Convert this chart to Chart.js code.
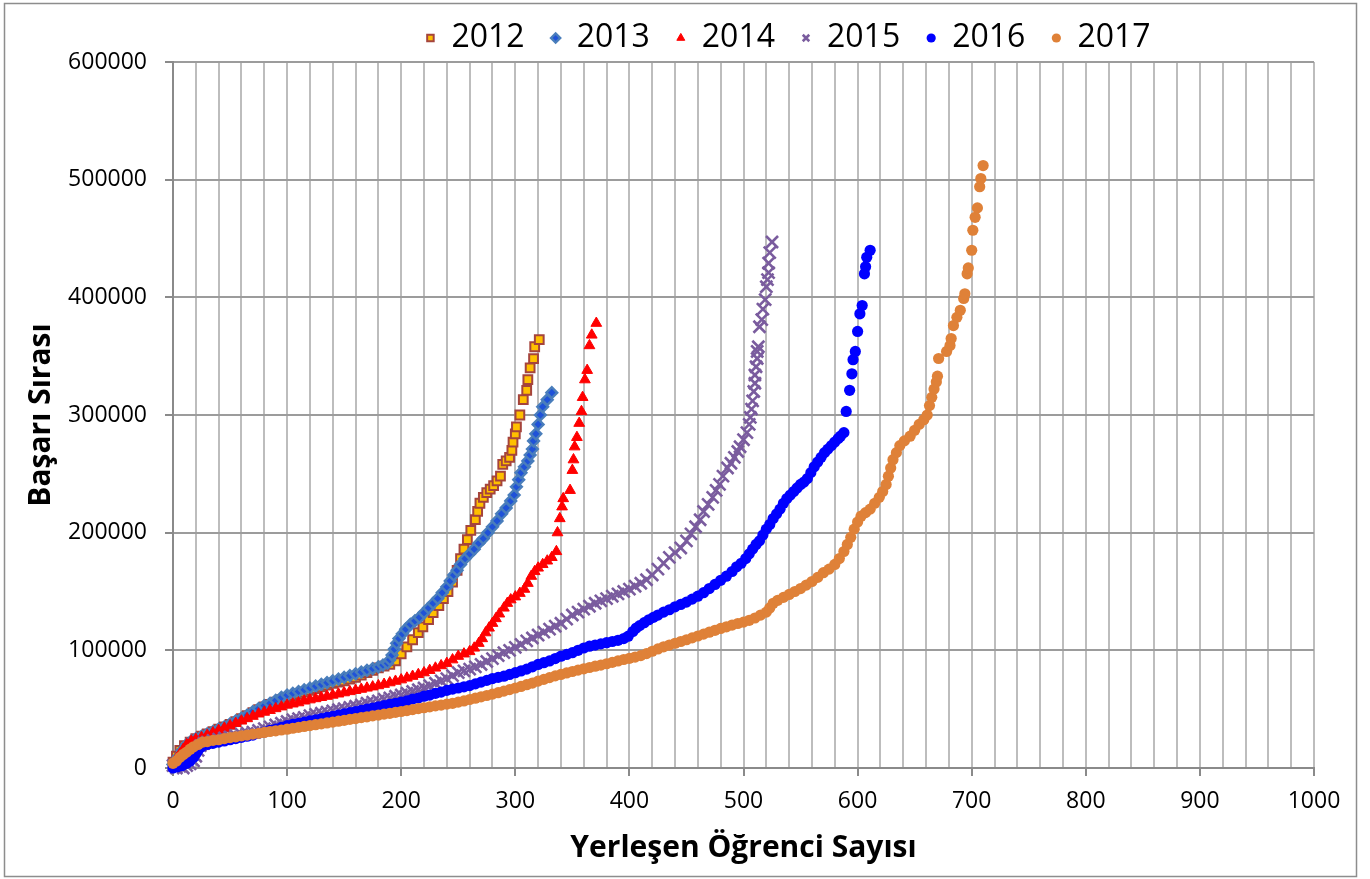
<!DOCTYPE html>
<html><head><meta charset="utf-8">
<script src="https://cdn.jsdelivr.net/npm/chart.js@4.4.0/dist/chart.umd.min.js"></script>
<style>html,body{margin:0;padding:0;background:#fff;}#wrap{width:1370px;height:879px;}</style>
</head><body><div id="wrap"><canvas id="c" width="1370" height="879"></canvas></div>
<script>
const seriesNames = ['2012','2013','2014','2015','2016','2017'];
const xTitle = 'Yerleşen Öğrenci Sayısı';
const yTitle = 'Başarı Sırası';
const xAxisMax = 1000, xMinorStep = 20, xLabelStep = 100;
const yAxisMax = 600000, yStep = 100000;

const s2012 = [[0,5000],[3,10000],[6,15000],[10,19000],[15,22000],[20,25000],[25,27000],[30,29000],[35,31000],[40,33000],[45,35000],[50,37000],[55,39500],[60,42000],[65,44500],[70,47000],[75,49500],[80,52000],[85,54000],[90,56000],[95,58000],[100,60000],[105,61500],[110,63000],[115,64500],[120,66000],[125,67500],[130,69000],[135,70500],[140,72000],[145,73000],[150,74000],[155,75500],[160,77000],[165,79000],[170,81000],[175,83000],[180,85000],[185,86500],[190,88000],[195,91000],[200,97000],[205,103000],[210,109000],[215,115000],[219,120000],[224,126000],[228,132000],[233,138000],[237,144000],[241,150000],[245,158000],[249,168000],[252,178000],[255,186000],[258,194000],[261,202000],[265,211000],[267,218000],[269,225000],[272,230000],[275,234000],[278,237000],[281,240000],[284,244000],[287,248000],[289,258000],[292,261000],[295,264000],[297,270000],[298,277000],[300,284000],[301,290000],[304,300000],[307,313000],[310,321000],[311,330000],[313,340000],[316,348000],[317,358000],[321,364000]];

const s2013 = [[0,3000],[2,6000],[5,10000],[8,15000],[12,20000],[16,23000],[20,25000],[25,27000],[30,29000],[35,31000],[40,33000],[45,35000],[50,37500],[55,40000],[60,42500],[65,45000],[70,48000],[75,50500],[80,53000],[85,55000],[90,57500],[95,60000],[100,62000],[105,63500],[110,65000],[115,66500],[120,68000],[125,69500],[130,71000],[135,72500],[140,74000],[145,75500],[150,77000],[155,78500],[160,80000],[165,81500],[170,83000],[175,84500],[180,86000],[184,87500],[188,89000],[190,92000],[192,96000],[194,101000],[196,106000],[198,110000],[201,114000],[204,118000],[208,122000],[212,125000],[216,128000],[220,132000],[224,136000],[228,140000],[232,144000],[236,149000],[240,154000],[243,159000],[246,164000],[249,168000],[252,173000],[256,178000],[260,182000],[264,186000],[268,191000],[272,195000],[276,200000],[280,205000],[284,210000],[288,216000],[292,221000],[296,227000],[299,232000],[301,239000],[303,245000],[305,251000],[308,256000],[311,261000],[313,266000],[315,271000],[316,278000],[318,284000],[320,292000],[322,300000],[324,307000],[328,313000],[332,319000]];

const s2014 = [[3,8000],[6,12000],[9,16000],[12,20000],[16,23000],[20,24500],[25,26000],[30,28000],[35,30000],[40,32000],[45,34000],[50,36000],[55,38000],[60,40000],[65,42000],[70,44000],[75,46000],[80,47500],[85,49000],[90,50500],[95,52000],[100,53500],[105,54500],[110,55500],[115,57000],[120,58000],[125,59000],[130,60000],[135,61000],[140,62000],[145,63000],[150,64000],[155,65000],[160,66000],[165,67000],[170,68000],[175,69000],[180,70000],[185,71200],[190,72500],[195,73800],[200,75000],[205,76500],[210,78000],[215,79500],[220,81000],[225,83000],[230,85000],[235,87000],[240,89000],[245,92000],[250,95000],[255,97000],[260,99000],[264,102000],[268,106000],[271,110000],[274,115000],[277,119000],[280,123000],[283,127000],[286,131000],[290,136000],[293,140000],[296,143000],[300,145500],[304,148500],[308,152000],[311,157000],[314,163000],[317,167000],[320,170000],[324,173000],[328,176000],[332,179000],[336,184000],[337,200000],[339,212000],[341,222000],[342,229000],[348,236000],[350,253000],[351,262000],[352,273000],[354,281000],[356,293000],[358,303000],[359,315000],[361,330000],[363,338000],[365,359000],[367,368000],[371,378000]];

const s2015 = [[0,2000],[3,0],[6,1500],[9,0],[12,2000],[15,3500],[18,6000],[20,10000],[22,15000],[24,19000],[27,21000],[30,22000],[35,23500],[40,24500],[45,25500],[50,26500],[55,27500],[60,28500],[65,29500],[70,30500],[75,32000],[80,33500],[85,35000],[90,36500],[95,38000],[100,39500],[105,41000],[110,42000],[115,43000],[120,44500],[125,45500],[130,46500],[135,47500],[140,48500],[145,49500],[150,50500],[155,51500],[160,52500],[165,53500],[170,55000],[175,56000],[180,57000],[185,58500],[190,59500],[195,61000],[200,62000],[205,63500],[210,65000],[215,66500],[220,68000],[225,70000],[230,72000],[235,74000],[240,76000],[245,78500],[250,81000],[255,82500],[260,84000],[265,86000],[270,88000],[275,90500],[280,93000],[285,95500],[290,98000],[295,100000],[300,102500],[305,105000],[310,108000],[315,110500],[320,113000],[325,115500],[330,118000],[335,120500],[340,123000],[345,126500],[350,130000],[355,132500],[360,135000],[365,137500],[370,140000],[375,142000],[380,144000],[385,146000],[390,148000],[395,150000],[400,152000],[405,154500],[410,157000],[415,160000],[420,164000],[425,169000],[430,174000],[435,179000],[440,183000],[445,187000],[450,193000],[454,199000],[458,205000],[462,211000],[465,218000],[469,224000],[473,230000],[476,236000],[479,241000],[482,248000],[486,255000],[489,259000],[492,264000],[495,269000],[497,273000],[500,279000],[503,285000],[505,292000],[506,298000],[507,305000],[508,312000],[509,320000],[510,327000],[510,334000],[511,341000],[512,348000],[512,354000],[513,358000],[514,375000],[516,381000],[517,390000],[519,398000],[520,409000],[521,415000],[522,421000],[522,429000],[523,438000],[525,447000]];

const s2016 = [[0,0],[4,1000],[8,2000],[12,4000],[15,6000],[18,9000],[20,12000],[22,15000],[25,18000],[30,20000],[35,21000],[40,22000],[45,23000],[50,24000],[55,25000],[60,26000],[65,27000],[70,28000],[75,29500],[80,30500],[85,32000],[90,33000],[95,34500],[100,36000],[105,37000],[110,38000],[115,39000],[120,40000],[125,41000],[130,42000],[135,43000],[140,44000],[145,45000],[150,46000],[155,47000],[160,48000],[165,49000],[170,50000],[175,51000],[180,52000],[185,53000],[190,54000],[195,55000],[200,56000],[205,57000],[210,58500],[215,59500],[220,61000],[225,62000],[230,63500],[235,64500],[240,66000],[245,67000],[250,68000],[255,69000],[260,70000],[265,71500],[270,73000],[275,74500],[280,76000],[285,77000],[290,78000],[295,79500],[300,81000],[305,82500],[310,84000],[315,86000],[320,88000],[325,89500],[330,91000],[335,93000],[340,95000],[345,96500],[350,98000],[355,100000],[360,102000],[365,103500],[370,104500],[375,105500],[380,106500],[385,107500],[390,108500],[395,110000],[399,112000],[403,116000],[406,119000],[409,121000],[413,123500],[417,126000],[421,128000],[425,130000],[430,132500],[435,134500],[440,137000],[445,139000],[450,141000],[455,143500],[460,146000],[465,149000],[470,152500],[475,156000],[480,159500],[485,163000],[490,167000],[494,171000],[498,174000],[502,178000],[505,182000],[508,186000],[511,190000],[514,193000],[517,198000],[520,203000],[523,207000],[526,212000],[529,216000],[532,220000],[535,225000],[538,229000],[541,232000],[544,235000],[547,238000],[550,241000],[553,243000],[556,246000],[559,251000],[562,256000],[565,260000],[568,264000],[571,268000],[574,271000],[577,274000],[580,277000],[583,280000],[585,282000],[588,285000],[590,303000],[593,321000],[595,335000],[596,347000],[598,354000],[600,371000],[602,386000],[604,393000],[606,420000],[607,426000],[608,434000],[611,440000]];

const s2017 = [[0,4000],[3,6000],[6,9000],[9,11500],[12,13500],[15,16000],[18,18000],[22,20000],[26,22000],[30,22500],[35,23500],[40,24000],[45,25000],[50,25800],[55,26500],[60,27300],[65,28000],[70,28800],[75,29500],[80,30200],[85,31000],[90,31600],[95,32300],[100,33000],[105,33800],[110,34500],[115,35300],[120,36000],[125,36800],[130,37500],[135,38300],[140,39000],[145,39800],[150,40500],[155,41300],[160,42000],[165,42800],[170,43500],[175,44300],[180,45000],[185,45800],[190,46500],[195,47300],[200,48000],[205,48800],[210,49600],[215,50500],[220,51200],[225,52000],[230,52800],[235,53500],[240,54300],[245,55000],[250,56000],[255,57000],[260,58200],[265,59300],[270,60500],[275,61600],[280,62800],[285,64000],[290,65300],[295,66600],[300,68000],[305,69300],[310,70800],[315,72200],[320,73800],[325,75300],[330,76800],[335,78300],[340,79500],[345,80800],[350,82000],[355,83200],[360,84300],[365,85400],[370,86500],[375,87500],[380,88600],[385,89800],[390,91000],[395,92200],[400,93200],[405,94300],[410,95500],[415,97200],[420,99200],[425,101200],[430,103000],[435,104500],[440,106000],[445,107500],[450,109000],[455,110600],[460,112200],[465,113800],[470,115400],[475,117000],[480,118600],[485,120000],[490,121500],[495,122800],[500,124000],[505,125500],[510,127500],[515,130000],[520,132500],[523,136000],[526,140000],[530,142500],[535,145000],[540,147500],[545,150000],[550,152500],[555,155500],[560,158500],[565,162000],[570,166000],[575,169000],[580,173000],[584,178000],[588,184000],[591,190000],[594,196000],[597,203000],[600,209000],[603,214000],[607,217000],[611,220000],[615,225000],[619,230000],[622,235000],[625,241000],[627,248000],[629,255000],[631,262000],[634,268000],[637,274000],[641,278000],[646,282000],[650,287000],[654,292000],[658,296000],[661,300000],[663,308000],[665,315000],[667,322000],[669,328000],[670,333000],[671,348000],[678,354000],[681,359000],[682,365000],[684,376000],[687,383000],[690,389000],[693,399000],[694,403000],[696,420000],[697,425000],[700,440000],[701,457000],[703,468000],[705,476000],[707,494000],[708,501000],[710,512000]];

const seriesData = [s2012, s2013, s2014, s2015, s2016, s2017];

const styles = [
  {pointStyle:'rect', pointRadius:6.2, backgroundColor:'#FFC000', borderColor:'#A5443C', borderWidth:2},
  {pointStyle:'rectRot', pointRadius:5.4, backgroundColor:'#1f52d8', borderColor:'#4A7EBB', borderWidth:2.4},
  {pointStyle:'triangle', pointRadius:6.2, backgroundColor:'#FF0000', borderColor:'#FF0000', borderWidth:1},
  {pointStyle:'crossRot', pointRadius:8.5, backgroundColor:'#7A5C9E', borderColor:'#7A5C9E', borderWidth:2.6},
  {pointStyle:'circle', pointRadius:5.6, backgroundColor:'#0000FF', borderColor:'#0000FF', borderWidth:0},
  {pointStyle:'circle', pointRadius:5.6, backgroundColor:'#DF8138', borderColor:'#DF8138', borderWidth:0}
];

const LEG_DX = 126, LEG_DY = 2;
const legendShift = { id:'legendShift', afterLayout(chart){ const lg = chart.legend; if(!lg) return; lg.left += LEG_DX; lg.right += LEG_DX; lg.top += LEG_DY; lg.bottom += LEG_DY; } };
const frame = { id:'frame', afterDraw(chart){ const c = chart.ctx; c.save(); c.strokeStyle='#8d8d8d'; c.lineWidth=1.5; c.strokeRect(4.5,3.5,1352,873); c.restore(); } };

const datasets = seriesNames.map((name, i) => Object.assign({
  label: name,
  data: seriesData[i].map(([x, y]) => ({x, y})),
  order: seriesNames.length - i,
  clip: false,
  pointHoverRadius: 0
}, styles[i]));

const font = 'Open Sans';
new Chart(document.getElementById('c'), {
  type: 'scatter',
  data: { datasets },
  options: {
    responsive: false,
    animation: false,
    events: [],
    layout: { padding: { left: 10, right: 56, top: -6, bottom: 10 } },
    plugins: {
      legend: {
        position: 'top', reverse: true,
        labels: { usePointStyle: true, boxWidth: 10, boxHeight: 6.5, padding: 26, color: '#000', font: { family: font, size: 32 } }
      },
      tooltip: { enabled: false }
    },
    scales: {
      x: {
        type: 'linear', min: 0, max: xAxisMax,
        afterFit: s => { s.height = 101; },
        ticks: { stepSize: xMinorStep, autoSkip: false, maxRotation: 0, padding: 12, color: '#000', font: { family: font, size: 23 },
          callback: v => (v % xLabelStep === 0 ? String(v) : '') },
        grid: { color: '#bdbdbd', lineWidth: 2, tickLength: 8, tickWidth: 2,
          tickColor: ctx => (ctx.tick && ctx.tick.value % xLabelStep === 0 ? '#8a8a8a' : 'rgba(0,0,0,0)') },
        border: { color: '#8a8a8a', width: 2 },
        title: { display: true, text: xTitle, color: '#000', font: { family: font, size: 30, weight: 'bold' }, padding: { top: 0, bottom: 3 } }
      },
      y: {
        type: 'linear', min: 0, max: yAxisMax,
        afterFit: s => { s.width = 163; },
        ticks: { stepSize: yStep, padding: 18, color: '#000', font: { family: font, size: 23 }, callback: v => String(v) },
        grid: { color: '#9c9c9c', lineWidth: 2, tickLength: 8, tickWidth: 2, tickColor: '#8a8a8a' },
        border: { color: '#8a8a8a', width: 2 },
        title: { display: true, text: yTitle, color: '#000', font: { family: font, size: 30, weight: 'bold' }, padding: { top: 13, bottom: 0 } }
      }
    }
  },
  plugins: [legendShift, frame]
});
</script>
</body></html>
